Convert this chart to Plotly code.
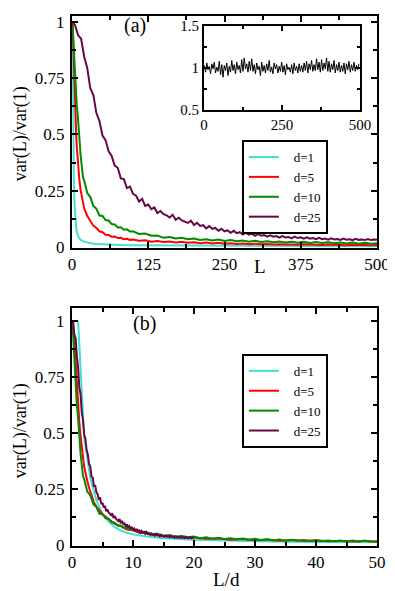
import plotly.graph_objects as go

# block sizes d and their colours (Grace defaults)
d_values = [1, 5, 10, 25]
d_names = ["d=1", "d=5", "d=10", "d=25"]
colors = ["#40e0d0", "#ff0000", "#008b00", "#670748"]

# var(L)/var(1)
L_c = [1, 2, 3, 4, 5, 6, 7, 8, 9, 10, 12, 15, 20, 25, 30, 40, 50, 60, 80, 100,
       150, 200, 300, 400, 500]
v_c = [1.0, 0.48, 0.30, 0.20, 0.14, 0.105, 0.08, 0.065, 0.055, 0.048, 0.04,
       0.031, 0.024, 0.02, 0.017, 0.014, 0.012, 0.011, 0.009, 0.008, 0.007,
       0.006, 0.005, 0.005, 0.004]

L_r = [1, 2, 3, 4, 5, 6, 7, 8, 9, 10, 12, 14, 16, 18, 20] + list(range(25, 101, 5)) + list(range(110, 501, 10))
v_r = [1.0, 0.90, 0.80, 0.70, 0.62, 0.55, 0.49, 0.44, 0.39, 0.35,
       0.30, 0.255, 0.225, 0.19, 0.172,
       0.138, 0.117, 0.095, 0.085, 0.07, 0.066, 0.055, 0.054, 0.046, 0.047,
       0.04, 0.041, 0.035, 0.037, 0.032, 0.034,
       0.028, 0.03, 0.024, 0.027, 0.022, 0.025, 0.02, 0.023, 0.019, 0.021,
       0.017, 0.02, 0.016, 0.019, 0.015, 0.017, 0.014, 0.016, 0.013, 0.015,
       0.012, 0.014, 0.011, 0.013, 0.011, 0.012, 0.01, 0.012, 0.01, 0.011,
       0.009, 0.011, 0.009, 0.01, 0.008, 0.01, 0.008, 0.009, 0.008, 0.009]

L_g = [1, 2, 3, 4, 5, 6, 7, 8, 9, 10, 12, 14, 16, 18, 20] + list(range(25, 101, 5)) + list(range(110, 501, 10))
v_g = [0.98, 0.92, 0.88, 0.80, 0.76, 0.70, 0.68, 0.62, 0.60, 0.54,
       0.49, 0.41, 0.37, 0.31, 0.295,
       0.24, 0.222, 0.183, 0.17, 0.14, 0.138, 0.12, 0.118, 0.102, 0.1,
       0.087, 0.088, 0.077, 0.079, 0.069, 0.07,
       0.058, 0.06, 0.05, 0.051, 0.041, 0.045, 0.038, 0.041, 0.035, 0.038,
       0.031, 0.035, 0.029, 0.033, 0.027, 0.031, 0.026, 0.029, 0.024, 0.028,
       0.022, 0.026, 0.021, 0.025, 0.02, 0.024, 0.019, 0.023, 0.018, 0.022,
       0.018, 0.021, 0.017, 0.02, 0.016, 0.02, 0.015, 0.019, 0.015, 0.017]

L_p = [1] + list(range(5, 501, 5))
v_p = [1.00, 0.985, 0.94, 0.925, 0.845, 0.795, 0.705, 0.675, 0.595, 0.56,
       0.495, 0.475, 0.425, 0.405, 0.362, 0.352, 0.305, 0.302, 0.262, 0.268,
       0.236, 0.228, 0.202, 0.214, 0.183, 0.189, 0.168, 0.176, 0.151, 0.16,
       0.146, 0.141, 0.131, 0.143, 0.121, 0.13, 0.118, 0.114, 0.107, 0.117,
       0.098, 0.108, 0.094, 0.097, 0.083, 0.093, 0.081, 0.085, 0.072, 0.081,
       0.07, 0.074, 0.063, 0.072, 0.062, 0.066, 0.056, 0.064, 0.055, 0.059,
       0.05, 0.058, 0.05, 0.053, 0.046, 0.052, 0.046, 0.049, 0.042, 0.049,
       0.043, 0.045, 0.039, 0.046, 0.04, 0.043, 0.037, 0.043, 0.037, 0.04,
       0.035, 0.041, 0.035, 0.038, 0.033, 0.039, 0.034, 0.036, 0.032, 0.038,
       0.033, 0.035, 0.031, 0.037, 0.032, 0.034, 0.031, 0.036, 0.031, 0.034,
       0.032]

# inset: a single series fluctuating around 1
L_ins = list(range(1, 501, 4))
v_ins = [1.03, 0.95, 1.06, 0.98, 1.02, 0.93, 1.05, 0.99, 1.07, 0.94,
         1.01, 0.96, 1.08, 0.92, 1.04, 0.89, 1.03, 0.97, 1.06, 0.91,
         1.02, 0.95, 1.09, 0.97, 1.04, 0.93, 1.07, 0.98, 1.03, 0.94,
         1.10, 0.96, 1.12, 0.99, 1.05, 0.95, 1.08, 0.97, 1.11, 0.96,
         1.04, 0.93, 1.06, 0.98, 1.02, 0.91, 1.07, 0.96, 1.03, 0.94,
         1.05, 0.97, 1.09, 0.95, 1.01, 0.93, 1.06, 0.99, 1.04, 0.94,
         1.02, 0.96, 1.07, 0.95, 1.03, 0.92, 1.05, 0.98, 1.01, 0.95,
         1.04, 0.93, 1.06, 0.97, 1.02, 0.94, 1.05, 0.96, 1.03, 0.95,
         1.06, 0.97, 1.08, 0.94, 1.05, 0.98, 1.09, 0.96, 1.04, 0.97,
         1.11, 0.98, 1.07, 0.95, 1.10, 0.97, 1.06, 0.99, 1.12, 0.96,
         1.08, 0.95, 1.05, 0.98, 1.09, 0.94, 1.04, 0.97, 1.07, 0.95,
         1.03, 0.96, 1.06, 0.93, 1.05, 0.98, 1.08, 0.95, 1.04, 0.97,
         1.07, 0.96, 1.03, 0.98, 1.05]

x_ticks_a = [0, 125, 250, 375, 500]
x_ticks_b = [0, 10, 20, 30, 40, 50]
y_ticks = [0, 0.25, 0.5, 0.75, 1]
y_ticktext = ["0", "0.25", "0.5", "0.75", "1"]

FONT = "Liberation Serif, Times New Roman, serif"
GAP = "\u00a0\u00a0\u00a0"  # space between legend line and its text

fig = go.Figure()

curves = [(L_c, v_c), (L_r, v_r), (L_g, v_g), (L_p, v_p)]
for (L, v), d, name, col in zip(curves, d_values, d_names, colors):
    # panel (a): against L
    fig.add_trace(go.Scatter(x=L, y=v, mode="lines", name=GAP + name,
                             line=dict(color=col, width=2),
                             xaxis="x", yaxis="y", legend="legend"))
for (L, v), d, name, col in zip(curves, d_values, d_names, colors):
    # panel (b): against L/d
    fig.add_trace(go.Scatter(x=[l / d for l in L], y=v, mode="lines", name=GAP + name,
                             line=dict(color=col, width=2),
                             xaxis="x2", yaxis="y2", legend="legend2"))
# inset
fig.add_trace(go.Scatter(x=L_ins, y=v_ins, mode="lines", showlegend=False,
                         line=dict(color="black", width=1),
                         xaxis="x3", yaxis="y3"))

axis_style = dict(showline=True, linecolor="black", linewidth=2, mirror="ticks",
                  ticks="inside", ticklen=6, tickwidth=1.5, tickcolor="black",
                  showgrid=False, zeroline=False,
                  tickfont=dict(family=FONT, size=17, color="black"))

def label(text, x, y, xref="paper", size=19, angle=0):
    return dict(text=text, x=x, y=y, xref=xref, yref="paper", showarrow=False,
                xanchor="center", yanchor="middle", textangle=angle,
                font=dict(size=size))

# the page body adds an 8px margin, so the figure is 8px smaller than the window
fig.update_layout(
    width=387, height=583,
    margin=dict(l=64, r=18, t=0, b=45),
    paper_bgcolor="white", plot_bgcolor="white",
    font=dict(family=FONT, color="black"),
    xaxis=dict(axis_style, domain=[0, 1], anchor="y", range=[0, 500],
               tickvals=x_ticks_a, ticklabelstandoff=0,
               minor=dict(dtick=62.5, ticklen=4, ticks="inside", tickcolor="black")),
    yaxis=dict(axis_style, domain=[0.5632, 1], anchor="x", range=[-0.002, 1.026],
               tickvals=y_ticks, ticktext=y_ticktext, ticklabelstandoff=2,
               minor=dict(dtick=0.125, ticklen=4, ticks="inside", tickcolor="black")),
    xaxis2=dict(axis_style, domain=[0, 1], anchor="y2", range=[0, 50],
                tickvals=x_ticks_b, ticklabelstandoff=0,
                minor=dict(dtick=5, ticklen=4, ticks="inside", tickcolor="black")),
    yaxis2=dict(axis_style, domain=[0, 0.4498], anchor="x2", range=[-0.004, 1.062],
                tickvals=y_ticks, ticktext=y_ticktext, ticklabelstandoff=2,
                minor=dict(dtick=0.125, ticklen=4, ticks="inside", tickcolor="black")),
    xaxis3=dict(axis_style, domain=[0.4328, 0.944], anchor="y3", range=[0, 500],
                tickvals=[0, 250, 500], ticklen=5,
                tickfont=dict(family=FONT, size=15, color="black"),
                minor=dict(dtick=125, ticklen=3, ticks="inside", tickcolor="black")),
    yaxis3=dict(axis_style, domain=[0.8229, 0.9809], anchor="x3", range=[0.5, 1.5],
                tickvals=[0.5, 1, 1.5], ticktext=["0.5", "1", "1.5"], ticklen=5,
                tickfont=dict(family=FONT, size=15, color="black"),
                minor=dict(dtick=0.25, ticklen=3, ticks="inside", tickcolor="black")),
    legend=dict(x=0.557, y=0.766, xanchor="left", yanchor="top",
                bgcolor="white", bordercolor="black", borderwidth=2,
                font=dict(family=FONT, size=13, color="black")),
    legend2=dict(x=0.557, y=0.3625, xanchor="left", yanchor="top",
                 bgcolor="white", bordercolor="black", borderwidth=2,
                 font=dict(family=FONT, size=13, color="black")),
    annotations=[
        label("(a)", 0.2066, 0.9814, size=20),
        label("(b)", 0.239, 0.420, size=20),
        label("L", 308, 0.5279, xref="x"),
        label("L/d", 25.4, -0.0632, xref="x2"),
        label("var(L)/var(1)", -0.1705, 0.7788, size=18, angle=-90),
        label("var(L)/var(1)", -0.1705, 0.2184, size=18, angle=-90),
    ],
)

fig.write_html("out.html")
